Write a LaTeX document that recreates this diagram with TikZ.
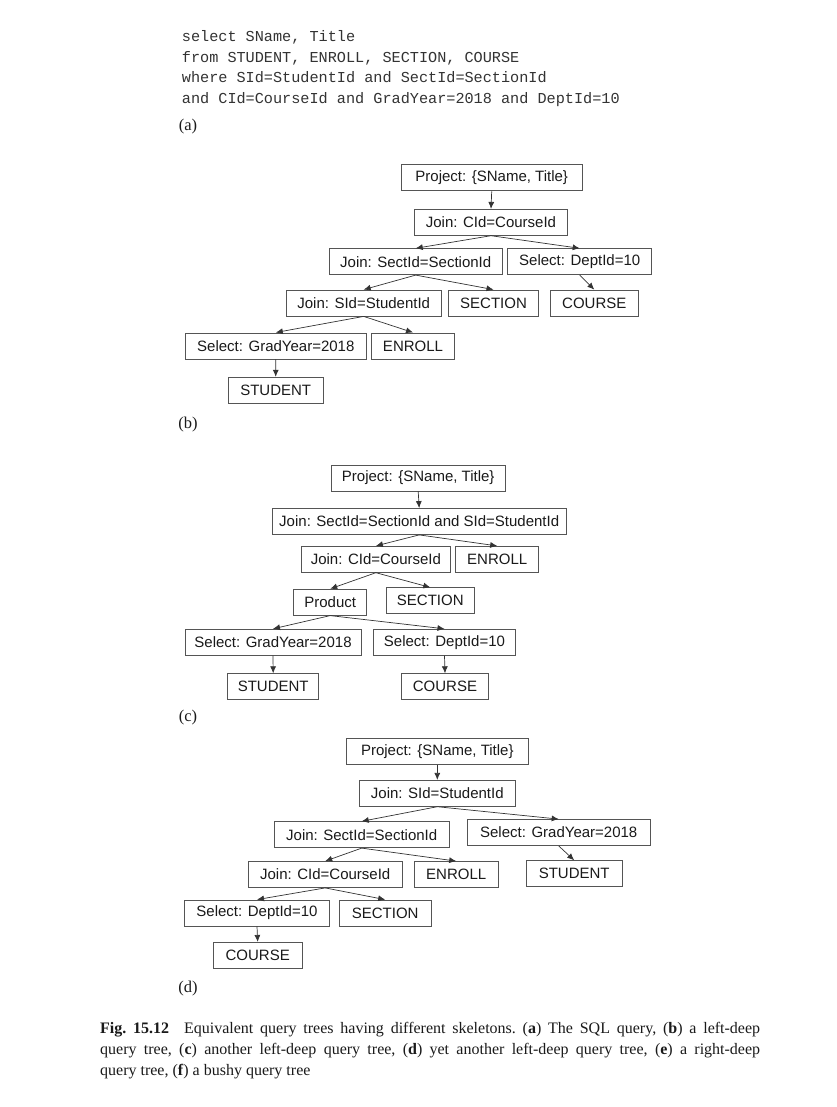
\documentclass[tikz,border=0pt]{standalone}
\usepackage{fontspec}
\setmainfont{Liberation Serif}
\newfontfamily\boxfont{Liberation Sans}
\newfontfamily\codefont{Liberation Mono}
\usetikzlibrary{arrows.meta}
\definecolor{boxline}{HTML}{555555}
\definecolor{arrline}{HTML}{333333}
\definecolor{txt}{HTML}{1A1A1A}
\definecolor{codetxt}{HTML}{333333}
\tikzset{
  box/.style={draw=boxline, line width=0.8pt, minimum height=26pt, inner sep=0pt,
    font=\boxfont\fontsize{15pt}{17pt}\selectfont, text=txt},
  arr/.style={draw=arrline, line width=0.7pt, -{Latex[length=7pt,width=6pt]}},
  sqlline/.style={anchor=base west, inner sep=0pt, font=\codefont\fontsize{15.2pt}{18pt}\selectfont, text=codetxt},
  sublabel/.style={inner sep=0pt, font=\fontsize{16.5pt}{19pt}\selectfont, text=txt}
}
\begin{document}
\begin{tikzpicture}[x=1pt,y=-1pt]
\useasboundingbox[fill=white] (0,0) rectangle (836,1107);

% (a) SQL query
\node[sqlline] (sql1) at (181.7,42) {select SName, Title};
\node[sqlline] (sql2) at (181.7,62.5) {from STUDENT, ENROLL, SECTION, COURSE};
\node[sqlline] (sql3) at (181.7,83) {where SId=StudentId and SectId=SectionId};
\node[sqlline] (sql4) at (181.7,103.5) {and CId=CourseId and GradYear=2018 and DeptId=10};
\node[sublabel] (la) at (188,127) {(a)};

% (b)
\node[box, minimum width=180.7pt] (b1) at (491.7,177.9) {Project: \{SName, Title\}};
\node[box, minimum width=152.6pt] (b2) at (491,222.3) {Join: CId=CourseId};
\node[box, minimum width=173.3pt] (b3) at (415.7,261.7) {Join: SectId=SectionId};
\node[box, minimum width=144pt] (b4) at (579.7,261.7) {Select: DeptId=10};
\node[box, minimum width=154.7pt] (b5) at (363.7,303) {Join: SId=StudentId};
\node[box, minimum width=90.4pt] (b6) at (493.5,303) {SECTION};
\node[box, minimum width=88pt] (b7) at (594.3,303) {COURSE};
\node[box, minimum width=181pt] (b8) at (275.8,345.9) {Select: GradYear=2018};
\node[box, minimum width=83.4pt] (b9) at (413,345.9) {ENROLL};
\node[box, minimum width=95.3pt] (b10) at (275.7,390.2) {STUDENT};
\node[sublabel] (lb) at (188,425) {(b)};
\draw[arr] (b1.south) -- (b2.north);
\draw[arr] (b2.south) -- (b3.north);
\draw[arr] (b2.south) -- (b4.north);
\draw[arr] (b3.south) -- (b5.north);
\draw[arr] (b3.south) -- (b6.north);
\draw[arr] (b4.south) -- (b7.north);
\draw[arr] (b5.south) -- (b8.north);
\draw[arr] (b5.south) -- (b9.north);
\draw[arr] (b8.south) -- (b10.north);

% (c)
\node[box, minimum width=174.3pt] (c1) at (418.2,477.9) {Project: \{SName, Title\}};
\node[box, minimum width=293.7pt] (c2) at (419.2,521.5) {Join: SectId=SectionId and SId=StudentId};
\node[box, minimum width=148.3pt] (c3) at (375.9,559.3) {Join: CId=CourseId};
\node[box, minimum width=83pt] (c4) at (497.2,559.3) {ENROLL};
\node[box, minimum width=73pt] (c5) at (330.2,602.2) {Product};
\node[box, minimum width=87.3pt] (c6) at (430.3,600.8) {SECTION};
\node[box, minimum width=176pt] (c7) at (273,642.2) {Select: GradYear=2018};
\node[box, minimum width=141.6pt] (c8) at (444.5,642.2) {Select: DeptId=10};
\node[box, minimum width=91pt] (c9) at (273.2,686.7) {STUDENT};
\node[box, minimum width=86.6pt] (c10) at (445,686.7) {COURSE};
\node[sublabel] (lc) at (188,718) {(c)};
\draw[arr] (c1.south) -- (c2.north);
\draw[arr] (c2.south) -- (c3.north);
\draw[arr] (c2.south) -- (c4.north);
\draw[arr] (c3.south) -- (c5.north);
\draw[arr] (c3.south) -- (c6.north);
\draw[arr] (c5.south) -- (c7.north);
\draw[arr] (c5.south) -- (c8.north);
\draw[arr] (c7.south) -- (c9.north);
\draw[arr] (c8.south) -- (c10.north);

% (d)
\node[box, minimum width=182pt] (d1) at (437.3,751.8) {Project: \{SName, Title\}};
\node[box, minimum width=156pt] (d2) at (437.3,793.3) {Join: SId=StudentId};
\node[box, minimum width=174.7pt] (d3) at (361.7,834.7) {Join: SectId=SectionId};
\node[box, minimum width=182.7pt] (d4) at (558.7,832.5) {Select: GradYear=2018};
\node[box, minimum width=154.3pt] (d5) at (325.2,874.5) {Join: CId=CourseId};
\node[box, minimum width=84.3pt] (d6) at (456.2,874.5) {ENROLL};
\node[box, minimum width=96.3pt] (d7) at (574.2,873.7) {STUDENT};
\node[box, minimum width=144.6pt] (d8) at (257,913) {Select: DeptId=10};
\node[box, minimum width=91.7pt] (d9) at (385.2,913) {SECTION};
\node[box, minimum width=89.3pt] (d10) at (257.7,955.3) {COURSE};
\node[sublabel] (ld) at (188,989) {(d)};
\draw[arr] (d1.south) -- (d2.north);
\draw[arr] (d2.south) -- (d3.north);
\draw[arr] (d2.south) -- (d4.north);
\draw[arr] (d3.south) -- (d5.north);
\draw[arr] (d3.south) -- (d6.north);
\draw[arr] (d4.south) -- (d7.north);
\draw[arr] (d5.south) -- (d8.north);
\draw[arr] (d5.south) -- (d9.north);
\draw[arr] (d8.south) -- (d10.north);

% caption
\node[anchor=base west, inner sep=0pt, text=txt] (cap) at (100,1033)
  {\parbox[t]{660pt}{\fontsize{16pt}{21pt}\selectfont\frenchspacing
   \textbf{Fig.~15.12}\hspace{0.5em} Equivalent query trees having different skeletons. (\textbf{a}) The SQL query, (\textbf{b}) a left-deep\linebreak
   query tree, (\textbf{c}) another left-deep query tree, (\textbf{d}) yet another left-deep query tree, (\textbf{e}) a right-deep\linebreak
   query tree, (\textbf{f}) a bushy query tree}};
\end{tikzpicture}
\end{document}
